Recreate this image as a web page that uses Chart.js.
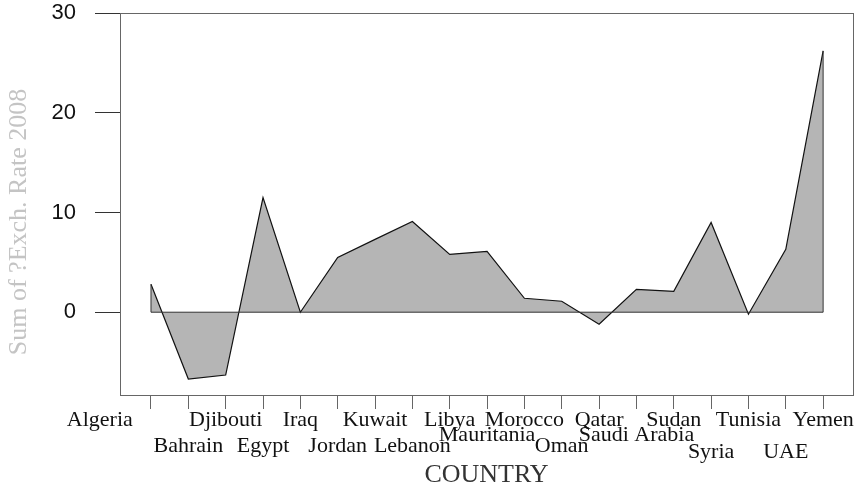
<!DOCTYPE html>
<html>
<head>
<meta charset="utf-8">
<script src="https://cdn.jsdelivr.net/npm/chart.js@4/dist/chart.umd.min.js"></script>
<style>
html,body{margin:0;padding:0;background:#fff;}
#wrap{width:856px;height:490px;}
</style>
</head>
<body>
<div id="wrap"><canvas id="c" width="856" height="490"></canvas></div>
<script>
// ---- data ----
const countries = ["Algeria","Bahrain","Djibouti","Egypt","Iraq","Jordan","Kuwait","Lebanon","Libya","Mauritania","Morocco","Oman","Qatar","Saudi Arabia","Sudan","Syria","Tunisia","UAE","Yemen"];
const exchRate2008 = [2.8,-6.7,-6.3,11.5,0.0,5.5,7.3,9.1,5.8,6.1,1.4,1.1,-1.2,2.3,2.1,9.0,-0.2,6.3,26.2];
const yTickValues = [0,10,20,30];
const xTitle = "COUNTRY";
const yTitle = "Sum of ?Exch. Rate 2008";

// ---- label layout (staggered rows like the original) ----
const labelRow = [0,1,0,1,0,1,0,1,0,2,0,1,0,2,0,3,0,3,0];
const rowBaseline = [31,57,46,63];           // px below plot bottom
const labelShift = {0:-1.37};                // category-unit shifts

const points = countries.map((c,i)=>({x:i,y:exchRate2008[i]}));

const decor = {
  id:'decor',
  beforeDraw(chart){
    const ctx = chart.ctx;
    ctx.save(); ctx.fillStyle='#fff'; ctx.fillRect(0,0,chart.width,chart.height); ctx.restore();
  },
  afterDatasetsDraw(chart){
    const ctx = chart.ctx, xs = chart.scales.x, ys = chart.scales.y, a = chart.chartArea;
    const n = exchRate2008.length-1;
    ctx.save();
    ctx.strokeStyle='#333'; ctx.lineWidth=1;
    ctx.beginPath();
    ctx.moveTo(xs.getPixelForValue(n), ys.getPixelForValue(exchRate2008[n]));
    ctx.lineTo(xs.getPixelForValue(n), ys.getPixelForValue(0));
    ctx.lineTo(xs.getPixelForValue(0), ys.getPixelForValue(0));
    ctx.lineTo(xs.getPixelForValue(0), ys.getPixelForValue(exchRate2008[0]));
    ctx.stroke();
    ctx.strokeStyle='#666';
    ctx.strokeRect(Math.round(a.left)+0.5, Math.round(a.top)+0.5, Math.round(a.right-a.left), Math.round(a.bottom-a.top));
    ctx.restore();
  },
  afterDraw(chart){
    const ctx = chart.ctx, xs = chart.scales.x, a = chart.chartArea;
    ctx.save();
    ctx.fillStyle='#111';
    ctx.font='22px "Liberation Serif", "Times New Roman", serif';
    ctx.textAlign='center'; ctx.textBaseline='alphabetic';
    countries.forEach((c,i)=>{
      const x = xs.getPixelForValue(i + (labelShift[i]||0));
      ctx.fillText(c, x, a.bottom + rowBaseline[labelRow[i]]);
    });
    ctx.fillStyle='#333';
    ctx.font='26px "Liberation Serif", "Times New Roman", serif';
    ctx.fillText(xTitle, (a.left+a.right)/2, a.bottom + 87);
    ctx.translate(19, 222);
    ctx.rotate(-Math.PI/2);
    ctx.fillStyle='#c4c4c4';
    ctx.font='26px "Liberation Serif", "Times New Roman", serif';
    ctx.textBaseline='middle';
    ctx.fillText(yTitle, 0, 0);
    ctx.restore();
  }
};

new Chart(document.getElementById('c'), {
  type:'line',
  data:{
    datasets:[{
      data: points,
      borderColor:'#111',
      borderWidth:1.2,
      backgroundColor:'#b5b5b5',
      fill:'origin',
      pointRadius:0,
      tension:0
    }]
  },
  options:{
    responsive:false,
    animation:false,
    devicePixelRatio:1,
    layout:{padding:{top:13,right:3,left:0,bottom:0}},
    plugins:{legend:{display:false},tooltip:{enabled:false}},
    scales:{
      x:{
        type:'linear',
        min:-0.83, max:18.8,
        afterBuildTicks:s=>{ s.ticks = countries.map((c,i)=>({value:i})); },
        afterFit:s=>{ s.height = 95; s.paddingLeft = 0; s.paddingRight = 0; },
        ticks:{display:false},
        grid:{drawOnChartArea:false, drawTicks:true, tickLength:14, color:'#666'},
        border:{display:false}
      },
      y:{
        min:-8.3, max:30,
        afterBuildTicks:s=>{ s.ticks = yTickValues.map(v=>({value:v})); },
        afterFit:s=>{ s.width = 120; s.paddingTop = 0; s.paddingBottom = 0; },
        ticks:{color:'#111', padding:19, font:{family:'"Liberation Sans", Arial, sans-serif', size:22}},
        grid:{drawOnChartArea:false, drawTicks:true, tickLength:25, color:'#333'},
        border:{display:false}
      }
    }
  },
  plugins:[decor]
});
</script>
</body>
</html>
